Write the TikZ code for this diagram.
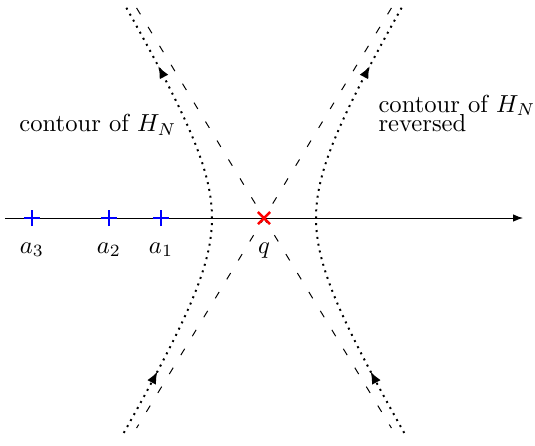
\documentclass[tikz,border=0pt]{standalone}
\usepackage{amsmath}
\usepackage{tikz}
\usetikzlibrary{arrows.meta,decorations.markings}
\definecolor{hppole}{RGB}{0,0,255}
\definecolor{hpsaddle}{RGB}{255,0,0}
\tikzset{
  axisline/.style={-{Latex[length=4pt,width=3pt]}, line width=0.4pt},
  asym/.style={loosely dashed, line width=0.4pt},
  contour/.style={
    dotted, line width=0.8pt, postaction={decorate},
    decoration={markings,
      mark=at position 0.15 with {\arrow{Latex[length=5pt,width=4pt]}},
      mark=at position 0.85 with {\arrow{Latex[length=5pt,width=4pt]}}}
  },
  pole/.style={draw=hppole, line width=1pt},
  saddle/.style={draw=hpsaddle, line width=1pt},
  lbl/.style={inner sep=0pt, anchor=base},
  txt/.style={inner sep=0pt, anchor=base west, align=left}
}
\begin{document}
\begin{tikzpicture}
  \useasboundingbox (-3.771,-3.243) rectangle (3.871,3.114);
  \coordinate (xl) at (-3.70,0);
  \coordinate (xr) at (3.70,0);
  \coordinate (q) at (0,0);
  \coordinate (nw) at (-1.82,3.0);
  \coordinate (se) at (1.82,-3.0);
  \coordinate (ne) at (1.82,3.0);
  \coordinate (sw) at (-1.82,-3.0);
  \draw[axisline] (xl) -- (xr);
  \draw[asym] (nw) -- (se);
  \draw[asym] (ne) -- (sw);
  \draw[contour] plot[domain=-3.07:3.05, samples=90] ({-0.743*sqrt(1+(\x/1.226)^2)}, \x);
  \draw[contour] plot[domain=-3.07:3.05, samples=90] ({0.743*sqrt(1+(\x/1.226)^2)}, \x);
  \foreach \n/\x in {1/-1.471, 2/-2.214, 3/-3.314} {
    \coordinate (a\n) at (\x,0);
    \draw[pole] (a\n) +(-0.115,0) -- +(0.115,0) (a\n) +(0,-0.115) -- +(0,0.115);
    \node[lbl] (la\n) at (\x,-0.5) {$a_\n$};
  }
  \draw[saddle] (q) +(-0.086,-0.086) -- +(0.086,0.086) (q) +(-0.086,0.086) -- +(0.086,-0.086);
  \node[lbl] (lq) at (0,-0.5) {$q$};
  \node[txt] (cl) at (-3.5,1.229) {contour of $H_N$};
  \node[txt] (cr) at (1.629,1.229) {contour of $H_N$\\[-4pt]reversed};
\end{tikzpicture}
\end{document}
